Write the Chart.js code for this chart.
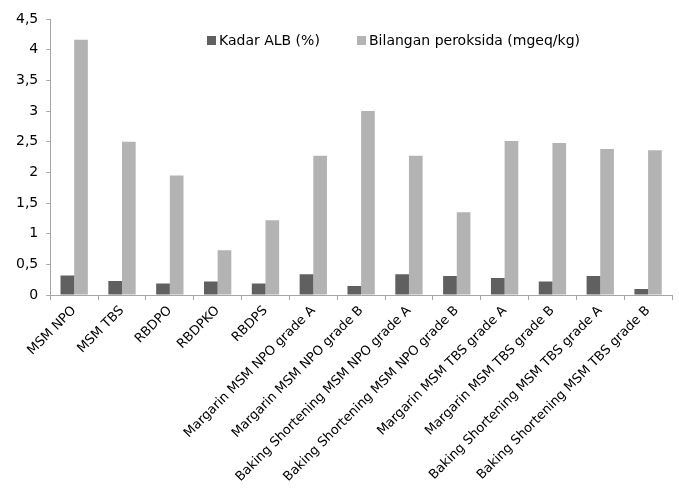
<!DOCTYPE html>
<html>
<head>
<meta charset="utf-8">
<script src="https://cdn.jsdelivr.net/npm/chart.js@4/dist/chart.umd.min.js"></script>
<style>
  html, body { margin: 0; padding: 0; background: #fff; }
  #wrap { width: 679px; height: 492px; }
</style>
</head>
<body>
<div id="wrap"><canvas id="myChart" width="679" height="492"></canvas></div>
<script>
// categories
const categories = [
    "MSM NPO", "MSM TBS", "RBDPO", "RBDPKO", "RBDPS",
    "Margarin MSM NPO grade A", "Margarin MSM NPO grade B",
    "Baking Shortening MSM NPO grade A", "Baking Shortening MSM NPO grade B",
    "Margarin MSM TBS grade A", "Margarin MSM TBS grade B",
    "Baking Shortening MSM TBS grade A", "Baking Shortening MSM TBS grade B"
];
// series
const kadarALB = [0.32, 0.23, 0.19, 0.22, 0.19, 0.34, 0.15, 0.34, 0.31, 0.28, 0.22, 0.31, 0.10];
const bilanganPeroksida = [4.16, 2.50, 1.95, 0.73, 1.22, 2.27, 3.00, 2.27, 1.35, 2.51, 2.48, 2.38, 2.36];
const seriesNames = ["Kadar ALB (%)", "Bilangan peroksida (mgeq/kg)"];
const seriesColors = ["#606060", "#b3b3b3"];

const FONT = "DejaVu Sans";

// legend drawn inside the plot area, like the Excel original
const insideLegend = {
    id: 'insideLegend',
    afterDraw(chart) {
        const ctx = chart.ctx;
        const starts = [207, 357];
        ctx.save();
        ctx.font = "14px '" + FONT + "'";
        ctx.textBaseline = 'middle';
        chart.data.datasets.forEach(function(ds, i) {
            ctx.fillStyle = ds.backgroundColor;
            ctx.fillRect(starts[i], 36, 9, 9);
            ctx.fillStyle = '#000';
            ctx.fillText(ds.label, starts[i] + 12, 41);
        });
        ctx.restore();
    }
};

const ctx = document.getElementById('myChart').getContext('2d');
new Chart(ctx, {
    type: 'bar',
    data: {
        labels: categories,
        datasets: [{
            label: seriesNames[0],
            data: kadarALB,
            backgroundColor: seriesColors[0],
            categoryPercentage: 2 / 3.5,
            barPercentage: 1
        }, {
            label: seriesNames[1],
            data: bilanganPeroksida,
            backgroundColor: seriesColors[1],
            categoryPercentage: 2 / 3.5,
            barPercentage: 1
        }]
    },
    options: {
        responsive: false,
        animation: false,
        layout: { padding: { top: 19, right: 7, left: 8, bottom: 4 } },
        plugins: {
            legend: { display: false },
            tooltip: { enabled: false }
        },
        scales: {
            y: {
                min: 0,
                max: 4.5,
                ticks: {
                    stepSize: 0.5,
                    color: '#000',
                    font: { family: FONT, size: 14 },
                    padding: 8,
                    callback: function(v) { return String(v).replace('.', ','); }
                },
                grid: { drawOnChartArea: false, tickLength: 4, color: '#a6a6a6' },
                border: { color: '#a6a6a6' }
            },
            x: {
                ticks: {
                    color: '#000',
                    font: { family: FONT, size: 13 },
                    minRotation: 45,
                    maxRotation: 45,
                    autoSkip: false,
                    padding: 3
                },
                grid: { offset: true, drawOnChartArea: false, tickLength: 5, color: '#a6a6a6' },
                border: { color: '#a6a6a6' }
            }
        }
    },
    plugins: [insideLegend]
});
</script>
</body>
</html>
